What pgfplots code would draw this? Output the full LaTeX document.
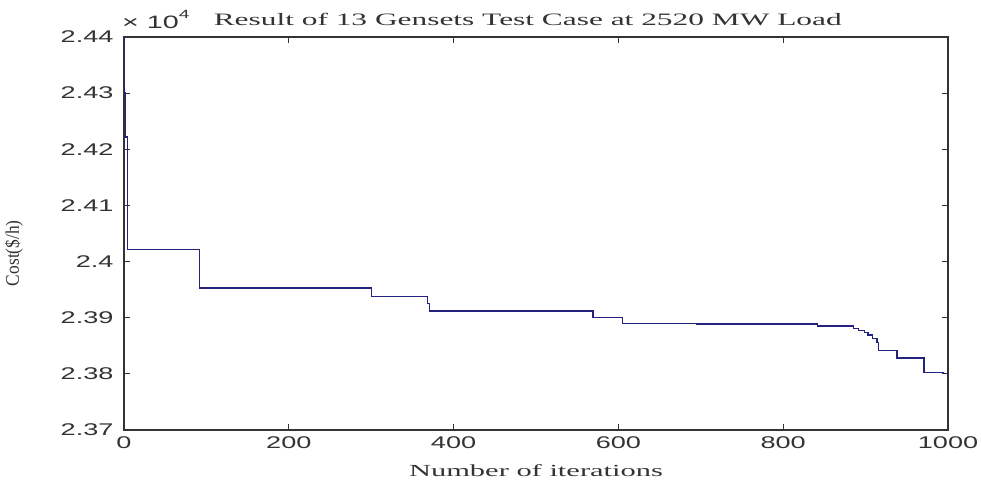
\documentclass[border=0pt]{standalone}
\usepackage{fontspec}
\usepackage{pgfplots}
\pgfplotsset{compat=1.18}
\setmainfont{Liberation Serif}[FakeStretch=1.8]
\newfontfamily\plainserif{Liberation Serif}
\newfontfamily\tickfont{Liberation Sans}[FakeStretch=1.6]
\definecolor{linec}{RGB}{35,35,125}
\begin{document}
\begin{tikzpicture}
\begin{axis}[
  at={(0,0)}, anchor=south west,
  scale only axis, width=824bp, height=393bp,
  xmin=0, xmax=1000, ymin=2.37, ymax=2.44,
  xtick={0,200,400,600,800,1000},
  xticklabels={0,200,400,600,800,1000},
  ytick={2.37,2.38,2.39,2.40,2.41,2.42,2.43,2.44},
  yticklabels={2.37,2.38,2.39,2.4,2.41,2.42,2.43,2.44},
  scaled y ticks=false, scaled x ticks=false,
  /pgf/number format/assume math mode=true,
  ticklabel style={font=\tickfont\fontsize{17}{20}\selectfont, text=black!80},
  yticklabel style={xshift=-7bp},
  xticklabel style={yshift=-3bp},
  major tick length=6bp,
  tick style={black!80, line width=1bp},
  axis line style={black!80, line width=1.3bp},
  xlabel={Number of iterations},
  xlabel style={at={(axis description cs:0.5,0)}, anchor=center, yshift=-41bp, font=\fontsize{17}{20}\selectfont, text=black!80},
  ylabel={\scalebox{1}[1.1]{Cost(\$/h)}},
  ylabel style={at={(axis description cs:-0.1335,0.45)}, anchor=center, font=\plainserif\fontsize{17.5}{20}\selectfont, text=black!80},
  title={Result of 13 Gensets Test Case at 2520 MW Load},
  title style={at={(rel axis cs:0.49,1)}, anchor=base, yshift=6bp, font=\fontsize{17.5}{20}\selectfont, text=black!80},
  clip mode=individual,
]
\addplot[const plot, color=linec, line width=1.3bp] coordinates {
(0,2.4440) (1,2.4300) (2,2.4222) (4,2.4022) (92,2.3953) (300,2.3938)
(368,2.3925) (371,2.3912) (569,2.3901) (605,2.3890) (695,2.3889)
(842,2.3885) (885,2.3881) (891,2.3877) (899,2.3874) (903,2.3869)
(908,2.3863) (914,2.3856) (916,2.3842) (938,2.3828) (971,2.3803)
(994,2.3801) (1000,2.3801)
};
\node[anchor=base west, font=\tickfont\fontsize{18}{20}\selectfont, text=black!80, inner sep=0pt] at ([xshift=-2bp,yshift=9bp]rel axis cs:0,1) {× 10\raisebox{0.55em}{\fontsize{12}{12}\selectfont 4}};
\end{axis}
\pgfresetboundingbox
\path[use as bounding box] (-124bp,-50bp) rectangle (857bp,430bp);
\end{tikzpicture}
\end{document}
